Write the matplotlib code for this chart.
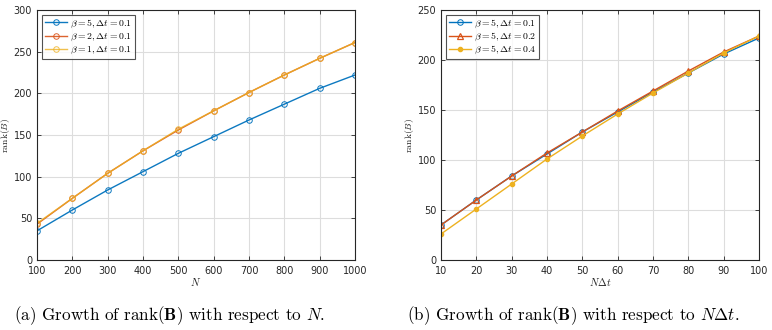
import matplotlib
matplotlib.use("Agg")
import matplotlib.pyplot as plt

plt.rcParams['mathtext.fontset'] = 'cm'
plt.rcParams['font.family'] = ['DejaVu Sans']

# Panel (a)
N = [100, 200, 300, 400, 500, 600, 700, 800, 900, 1000]
rank_b5 = [35, 60, 84, 106, 128, 148, 168, 187, 206, 222]
rank_b2 = [43, 74, 104, 131, 156, 179, 201, 222, 242, 261]
rank_b1 = [44, 74, 104, 131, 157, 179, 201, 222, 242, 261]
labels_a = [r'$\beta=5, \Delta t=0.1$', r'$\beta=2, \Delta t=0.1$', r'$\beta=1, \Delta t=0.1$']

# Panel (b)
NDt = [10, 20, 30, 40, 50, 60, 70, 80, 90, 100]
rank_dt01 = [35, 60, 84, 106, 128, 148, 168, 187, 206, 222]
rank_dt02 = [35, 60, 84, 107, 128, 149, 169, 189, 208, 224]
rank_dt04 = [26, 51, 76, 101, 124, 146, 167, 187, 207, 224]
labels_b = [r'$\beta=5, \Delta t=0.1$', r'$\beta=5, \Delta t=0.2$', r'$\beta=5, \Delta t=0.4$']

C1, C2, C3 = '#0072BD', '#D95319', '#EDB120'

fig = plt.figure(figsize=(7.72, 3.30), dpi=100)
W, H = 772, 330
axa = fig.add_axes([37 / W, 70 / H, 318 / W, 250 / H])
axb = fig.add_axes([441 / W, 70 / H, 318 / W, 250 / H])


def style(ax, xt, xlim, yt, ylim, xlabel):
    ax.set_xlim(*xlim)
    ax.set_ylim(*ylim)
    ax.set_xticks(xt)
    ax.set_yticks(yt)
    ax.grid(True, color='#dddddd', linewidth=0.8)
    ax.set_axisbelow(True)
    ax.tick_params(direction='in', top=True, right=True, labelsize=7,
                   colors='#262626', length=3, width=0.6)
    ax.tick_params(axis='x', pad=4.5)
    ax.tick_params(axis='y', pad=3.5)
    for s in ax.spines.values():
        s.set_color('#262626')
        s.set_linewidth(0.8)
    ax.set_xlabel(xlabel, fontsize=7.5, color='#262626', labelpad=0)
    ax.set_ylabel(r'$\mathrm{rank}(B)$', fontsize=7, color='#262626', labelpad=1)


axa.plot(N, rank_b5, color=C1, lw=1, marker='o', ms=4, mfc='none', mec=C1, mew=0.7, alpha=0.95, label=labels_a[0])
axa.plot(N, rank_b2, color=C2, lw=1, marker='o', ms=4, mfc='none', mec=C2, mew=0.7, alpha=0.9, label=labels_a[1])
axa.plot(N, rank_b1, color=C3, lw=1, marker='o', ms=4, mfc='none', mec=C3, mew=0.7, alpha=0.8, label=labels_a[2])
style(axa, N, (100, 1000), range(0, 301, 50), (0, 300), r'$N$')

axb.plot(NDt, rank_dt01, color=C1, lw=1, marker='o', ms=4, mfc='none', mec=C1, mew=0.7, label=labels_b[0])
axb.plot(NDt, rank_dt02, color=C2, lw=1, marker='^', ms=5, mfc='none', mec=C2, mew=0.9, label=labels_b[1])
axb.plot(NDt, rank_dt04, color=C3, lw=1, marker='.', ms=6, mfc=C3, mec=C3, label=labels_b[2])
style(axb, NDt, (10, 100), range(0, 251, 50), (0, 250), r'$N\Delta t$')

for ax in (axa, axb):
    leg = ax.legend(loc='upper left', fontsize=7, frameon=True, fancybox=False,
                    borderpad=0.3, labelspacing=0.1, handlelength=2.3, handletextpad=0.3,
                    borderaxespad=0.5)
    leg.get_frame().set_edgecolor('#262626')
    leg.get_frame().set_linewidth(0.8)

fig.text(170 / W, 1 - 316 / H, r'(a) Growth of rank($\mathbf{B}$) with respect to $N$.',
         ha='center', va='center', fontsize=12.3, family='serif',
         math_fontfamily='cm', fontname='cmr10')
fig.text(573 / W, 1 - 316 / H, r'(b) Growth of rank($\mathbf{B}$) with respect to $N\mathbf{\Delta}t$.',
         ha='center', va='center', fontsize=12.3, family='serif',
         math_fontfamily='cm', fontname='cmr10')

fig.savefig('out.png', dpi=100)
